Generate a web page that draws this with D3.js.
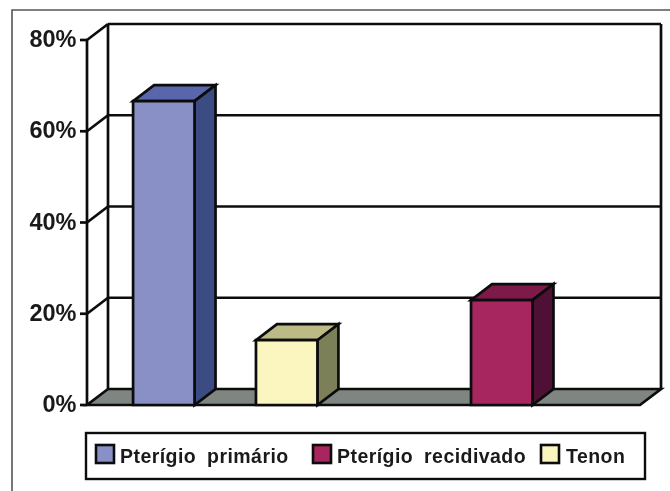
<!DOCTYPE html>
<html><head><meta charset="utf-8">
<script src="https://cdn.jsdelivr.net/npm/d3@7"></script>
<style>html,body{margin:0;background:#fff}svg{display:block;filter:blur(0.45px)}text{font-family:"Liberation Sans",Arial,sans-serif;font-weight:bold;fill:#1a1a1a}</style>
</head><body><script>
const groups = ["A","B"];
const seriesNames = ["Pterígio primário","Pterígio recidivado","Tenon"];
const primario = [66.6, 0];
const recidivado = [0, 23];
const tenon = [14.2, 0];
const yTicks = [0,20,40,60,80];
const frontFill = ["#8890c6","#a8265f","#fbf6c0"];
const sideFill = ["#3a4c82","#4f1035","#7b8058"];
const topFill = ["#5a66ac","#7d1a4a","#bcbb88"];
const floorFill = "#7f8580";
const all = [primario,recidivado,tenon];

const W=670,H=491,ink="#0c0c0c";
const dx=21,dy=-16;
const y=d3.scaleLinear().domain([0,80]).range([405,40]);
const x0=d3.scaleBand().domain(groups).range([87,640]);
const x1=d3.scaleBand().domain(d3.range(3)).range([0,x0.bandwidth()]).paddingInner(0).paddingOuter(0.75);

const svg=d3.select("body").append("svg").attr("width",W).attr("height",H);
// picture frame
svg.append("path").attr("d",`M12,491V10H670`).attr("fill","none").attr("stroke","#555").attr("stroke-width",1.6);

const g=svg.append("g").attr("stroke",ink).attr("stroke-width",2.7).attr("stroke-linejoin","miter");
const poly=(pts,fill)=>g.append("polygon").attr("points",pts.map(p=>p.join(",")).join(" ")).attr("fill",fill);
const line=(a,b)=>g.append("line").attr("x1",a[0]).attr("y1",a[1]).attr("x2",b[0]).attr("y2",b[1]);
const xL=x0.range()[0],xR=x0.range()[1];

// floor
poly([[xL,y(0)],[xR,y(0)],[xR+dx,y(0)+dy],[xL+dx,y(0)+dy]],floorFill);
// walls
line([xL,y(80)],[xL,y(0)]);
line([xL+dx,y(80)+dy],[xL+dx,y(0)+dy]);
line([xR+dx,y(80)+dy],[xR+dx,y(0)+dy]);
// gridlines and ticks
yTicks.forEach(t=>{
  if(t>0) line([xL,y(t)],[xL+dx,y(t)+dy]);
  if(t>0) line([xL+dx,y(t)+dy],[xR+dx,y(t)+dy]);
  line([xL-7,y(t)],[xL,y(t)]);
});
svg.append("g").selectAll("text").data(yTicks).join("text")
  .attr("x",76.5).attr("y",t=>y(t)+7).attr("text-anchor","end").attr("font-size",23.5)
  .text(t=>t+"%");

// bars
groups.forEach((gr,i)=>{
  all.forEach((vals,s)=>{
    const v=vals[i]; if(!v) return;
    const a=x0(gr)+x1(s),b=a+x1.bandwidth(),t=y(v),z=y(0);
    poly([[a,t],[b,t],[b+dx,t+dy],[a+dx,t+dy]],topFill[s]);
    poly([[b,t],[b+dx,t+dy],[b+dx,z+dy],[b,z]],sideFill[s]);
    poly([[a,t],[b,t],[b,z],[a,z]],frontFill[s]);
  });
});

// legend
svg.append("rect").attr("x",86).attr("y",433).attr("width",559).attr("height",46).attr("fill","#fff").attr("stroke",ink).attr("stroke-width",2.4);
const legX=[96,313,541],txtX=[120,337,566];
seriesNames.forEach((n,s)=>{
  svg.append("rect").attr("x",legX[s]).attr("y",445).attr("width",18).attr("height",18).attr("fill",frontFill[s]).attr("stroke",ink).attr("stroke-width",2.6);
  svg.append("text").attr("x",txtX[s]).attr("y",463).attr("font-size",19.5).attr("word-spacing",5).attr("letter-spacing",0.45).text(n);
});
</script></body></html>
